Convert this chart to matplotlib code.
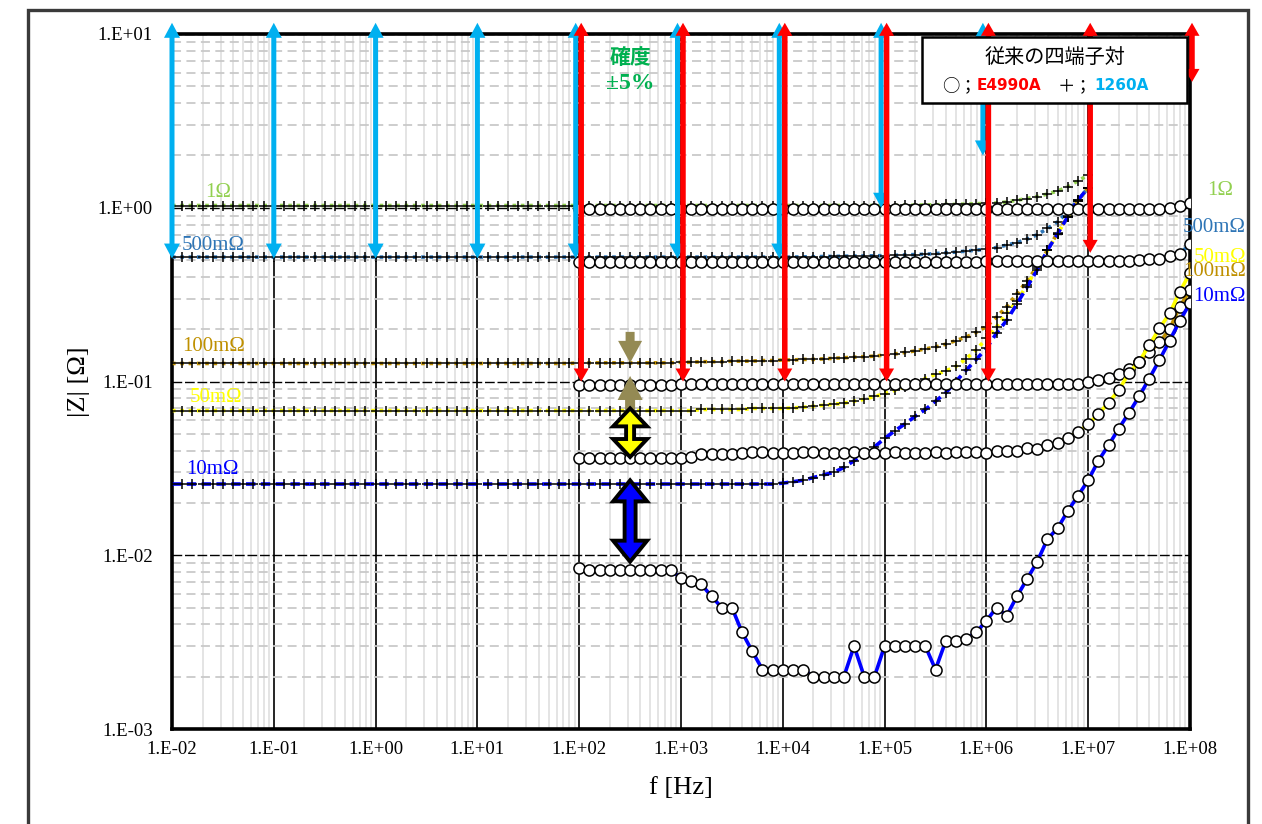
import numpy as np
import matplotlib
matplotlib.use("Agg")
import matplotlib.pyplot as plt
from matplotlib.patches import Polygon, Rectangle
from matplotlib.transforms import IdentityTransform
from matplotlib.ticker import FixedLocator, FixedFormatter, LogLocator, NullFormatter

# ---------------- data ----------------
# 1260A sweep: 10 points / decade, 1E-2 .. 1E+7 Hz
freq_1260a = np.logspace(-2, 7, 91)
# E4990A sweep: 10 points / decade, 1E+2 .. 1E+8 Hz
freq_e4990a = np.logspace(2, 8, 61)

z1260_1ohm = [1.03] * 70 + [
    1.03, 1.03, 1.035, 1.035, 1.04, 1.04, 1.045, 1.045, 1.05, 1.055,
    1.06, 1.065, 1.08, 1.105, 1.13, 1.16, 1.2, 1.25, 1.32, 1.43, 1.54]
z1260_500m = [0.52] * 60 + [
    0.52, 0.52, 0.522, 0.522, 0.524, 0.525, 0.526, 0.527, 0.528, 0.529,
    0.53, 0.532, 0.535, 0.538, 0.54, 0.545, 0.55, 0.556, 0.563, 0.57,
    0.577, 0.59, 0.61, 0.63, 0.66, 0.70, 0.76, 0.83, 0.95, 1.11, 1.3]
z1260_100m = [0.127] * 40 + [0.128] * 10 + [
    0.129, 0.129, 0.13, 0.13, 0.13, 0.131, 0.131, 0.131, 0.132, 0.132,
    0.133, 0.133, 0.134, 0.134, 0.135, 0.136, 0.137, 0.138, 0.139, 0.14,
    0.142, 0.144, 0.147, 0.15, 0.154, 0.158, 0.164, 0.172, 0.18, 0.192,
    0.207, 0.235, 0.27, 0.32, 0.38, 0.46, 0.57, 0.72, 0.9, 1.1, 1.3]
z1260_50m = [0.068] * 50 + [
    0.068, 0.068, 0.069, 0.069, 0.069, 0.069, 0.069, 0.07, 0.07, 0.07,
    0.07, 0.0705, 0.071, 0.072, 0.073, 0.074, 0.075, 0.077, 0.079, 0.082,
    0.085, 0.089, 0.093, 0.098, 0.104, 0.11, 0.115, 0.122, 0.135, 0.152,
    0.177, 0.207, 0.247, 0.29, 0.36, 0.45, 0.57, 0.71, 0.89, 1.1, 1.3]
z1260_10m = [0.0257] * 60 + [
    0.026, 0.0265, 0.027, 0.028, 0.029, 0.03, 0.032, 0.035, 0.038, 0.042,
    0.047, 0.052, 0.057, 0.063, 0.069, 0.077, 0.086, 0.1, 0.116, 0.134,
    0.155, 0.19, 0.225, 0.28, 0.35, 0.44, 0.57, 0.71, 0.89, 1.11, 1.3]

ze49_1ohm = [0.985] * 10 + [0.99] * 48 + [1.0, 1.02, 1.065]
ze49_500m = [0.485] * 10 + [0.49] * 30 + [0.495] * 15 + [
    0.5, 0.505, 0.51, 0.53, 0.545, 0.616]
ze49_100m = [0.095] * 10 + [0.097] * 40 + [
    0.099, 0.102, 0.105, 0.11, 0.118, 0.13, 0.147, 0.168, 0.2, 0.27, 0.336]
ze49_50m = [0.0364] * 11 + [0.037, 0.0381, 0.0381, 0.0381, 0.0384] + [
    0.039, 0.0391, 0.0391, 0.039, 0.0388, 0.039, 0.0391, 0.0391, 0.039, 0.0388,
    0.039, 0.0391, 0.039, 0.0388, 0.039, 0.0391, 0.039, 0.0389, 0.039, 0.0391,
    0.039, 0.0391, 0.0391, 0.0391] + [
    0.0387, 0.04, 0.04, 0.04, 0.0413, 0.041, 0.0429, 0.0445, 0.0475, 0.0512,
    0.0567, 0.065, 0.0755, 0.0893, 0.1115, 0.13, 0.162, 0.202, 0.247, 0.329, 0.421]
ze49_10m = [0.0085] + [0.0082] * 9 + [
    0.0074, 0.0071, 0.0068, 0.0058, 0.005, 0.005, 0.0036, 0.0028, 0.0022, 0.0022,
    0.0022, 0.0022, 0.0022, 0.002, 0.002, 0.002, 0.002, 0.003, 0.002, 0.002,
    0.003, 0.003, 0.003, 0.003, 0.003, 0.0022, 0.0032, 0.0032, 0.0033, 0.0036,
    0.0042, 0.005, 0.0045, 0.0058, 0.0073, 0.0092, 0.0124, 0.0143, 0.018, 0.022,
    0.027, 0.035, 0.043, 0.0535, 0.066, 0.082, 0.104, 0.133, 0.172, 0.224, 0.282]

series_names = ["1Ω", "500mΩ", "100mΩ", "50mΩ", "10mΩ"]
series_colors = ["#92D050", "#2E75B6", "#BF9000", "#FFFF00", "#0000FF"]

# accuracy (±5 %) ranges per instrument
acc_1260a_freq = [1e-2, 1e-1, 1e0, 1e1, 1e2, 1e3, 1e4, 1e5, 1e6]
acc_1260a_low = [0.51, 0.51, 0.51, 0.51, 0.51, 0.51, 0.51, 1.0, 2.0]
acc_e4990a_freq = [1e2, 1e3, 1e4, 1e5, 1e6, 1e7, 1e8]
acc_e4990a_low = [0.1, 0.1, 0.1, 0.1, 0.1, 0.55, 5.3]
acc_high = 11.6

x_tick_values = [1e-2, 1e-1, 1e0, 1e1, 1e2, 1e3, 1e4, 1e5, 1e6, 1e7, 1e8]
x_tick_labels = ["1.E-02", "1.E-01", "1.E+00", "1.E+01", "1.E+02", "1.E+03",
                 "1.E+04", "1.E+05", "1.E+06", "1.E+07", "1.E+08"]
y_tick_values = [1e-3, 1e-2, 1e-1, 1e0, 1e1]
y_tick_labels = ["1.E-03", "1.E-02", "1.E-01", "1.E+00", "1.E+01"]

# ---------------- figure ----------------
SERIF = "Liberation Serif"
CJK = "Noto Sans CJK JP"

fig = plt.figure(figsize=(12.62, 8.24), dpi=100)
fig.patch.set_facecolor("white")
ax = fig.add_axes([172 / 1262, 95 / 824, 1018 / 1262, 695 / 824])
ax.set_xscale("log")
ax.set_yscale("log")
ax.set_xlim(1e-2, 1e8)
ax.set_ylim(1e-3, 1e1)

# outer frame around the whole chart
fig.add_artist(Rectangle((28 / 1262, -0.05), 1220 / 1262, 1.05 - 10 / 824,
                         transform=fig.transFigure, fill=False,
                         ec="#3A3A3A", lw=2.4, clip_on=False))

ax.xaxis.set_major_locator(FixedLocator(x_tick_values))
ax.xaxis.set_major_formatter(FixedFormatter(x_tick_labels))
ax.yaxis.set_major_locator(FixedLocator(y_tick_values))
ax.yaxis.set_major_formatter(FixedFormatter(y_tick_labels))
ax.xaxis.set_minor_locator(LogLocator(base=10, subs=np.arange(2, 10), numticks=30))
ax.yaxis.set_minor_locator(LogLocator(base=10, subs=np.arange(2, 10), numticks=30))
ax.xaxis.set_minor_formatter(NullFormatter())
ax.yaxis.set_minor_formatter(NullFormatter())
ax.tick_params(which="both", length=0)
ax.tick_params(axis="x", pad=9)
ax.tick_params(axis="y", pad=14)
for lab in ax.get_xticklabels() + ax.get_yticklabels():
    lab.set_fontfamily(SERIF)
    lab.set_fontsize(13.5)

ax.set_axisbelow(True)
ax.grid(which="minor", axis="x", color="#E4E4E4", lw=1.4, ls="-")
ax.grid(which="minor", axis="y", color="#C9C9C9", lw=1.3, ls=(0, (5, 3)))
ax.grid(which="major", axis="x", color="black", lw=1.2, ls="-")
ax.grid(which="major", axis="y", color="black", lw=1.0, ls=(0, (7, 2)))
for side in ["left", "right", "top", "bottom"]:
    ax.spines[side].set_linewidth(2.6)
    ax.spines[side].set_color("black")

ax.set_xlabel("f [Hz]", fontfamily=SERIF, fontsize=19, labelpad=13)
ax.set_ylabel("|Z| [Ω]", fontfamily=SERIF, fontsize=19, labelpad=5)

# ---------------- measured curves ----------------
z1260_all = [z1260_1ohm, z1260_500m, z1260_100m, z1260_50m, z1260_10m]
ze49_all = [ze49_1ohm, ze49_500m, ze49_100m, ze49_50m, ze49_10m]

for i, (vals, col) in enumerate(zip(z1260_all, series_colors)):
    style = (0, (2.6, 1.5)) if i == 4 else (0, (1, 1.3))
    ax.plot(freq_1260a, vals, color=col, lw=2.6, ls=style, zorder=3 + 0.1 * i)
    ax.plot(freq_1260a, vals, ls="none", marker="+", ms=6.5, mew=1.1,
            mec="black", zorder=3.05 + 0.1 * i)

for i, (vals, col) in enumerate(zip(ze49_all, series_colors)):
    ax.plot(freq_e4990a, vals, color=col, lw=2.6, marker="o", ms=8,
            mfc="white", mec="black", mew=1.1, zorder=4 + 0.1 * i)

# ---------------- series labels ----------------
left_label_pos = [(0.0211, 1.216), (0.01254, 0.61), (0.0125, 0.158),
                  (0.01503, 0.0814), (0.01372, 0.03135)]
right_label_pos = [(2.64e8, 1.265), (3.55e8, 0.765), (3.55e8, 0.427),
                   (3.55e8, 0.514), (3.55e8, 0.31)]
for name, col, lp, rp in zip(series_names, series_colors,
                             left_label_pos, right_label_pos):
    ax.text(lp[0], lp[1], name, color=col, fontfamily=SERIF, fontsize=15,
            ha="left", va="center", zorder=7)
    ax.text(rp[0], rp[1], name, color=col, fontfamily=SERIF, fontsize=15,
            ha="right", va="center", zorder=7, clip_on=False)


# ---------------- vertical arrows (drawn in pixel units) ----------------
def vertical_arrow(x, y_start, y_end, dx, shaft, head_w, head_l, two_heads,
                   zorder=6, **kw):
    X, ya = ax.transData.transform((x, y_start))
    _, yb = ax.transData.transform((x, y_end))
    X += dx
    s = 1.0 if yb > ya else -1.0
    hs, hw = shaft / 2.0, head_w / 2.0
    pts = []
    if two_heads:
        pts += [(X, ya), (X - hw, ya + s * head_l), (X - hs, ya + s * head_l)]
    else:
        pts += [(X - hs, ya)]
    pts += [(X - hs, yb - s * head_l), (X - hw, yb - s * head_l), (X, yb),
            (X + hw, yb - s * head_l), (X + hs, yb - s * head_l)]
    if two_heads:
        pts += [(X + hs, ya + s * head_l), (X + hw, ya + s * head_l)]
    else:
        pts += [(X + hs, ya)]
    poly = Polygon(pts, closed=True, transform=IdentityTransform(),
                   clip_on=False, zorder=zorder, **kw)
    ax.add_artist(poly)


for f, lo in zip(acc_1260a_freq, acc_1260a_low):
    shift = -3.5 if f >= 1e2 else 0.0
    vertical_arrow(f, lo, acc_high, shift, 5, 16, 15, True,
                   fc="#00B0F0", ec="none", zorder=6)
for f, lo in zip(acc_e4990a_freq, acc_e4990a_low):
    vertical_arrow(f, lo, acc_high, 2.0, 5.5, 15, 13, True,
                   fc="#FF0000", ec="none", zorder=6.2)

# offsets between the two instruments at 10^2.5 Hz
f_mid = 10 ** 2.5
vertical_arrow(f_mid, 0.193, z1260_100m[45], 0, 9, 24, 22, False,
               fc="#948A54", ec="none", zorder=6.5)
vertical_arrow(f_mid, z1260_50m[45], 0.1076, 0, 10, 25, 24, False,
               fc="#948A54", ec="none", zorder=6.5)
vertical_arrow(f_mid, ze49_50m[5] * 1.01, z1260_50m[45] * 1.03, 0, 8, 34, 18,
               True, fc="#FFFF00", ec="black", lw=2.8, zorder=6.6)
vertical_arrow(f_mid, ze49_10m[5] * 1.12, z1260_10m[45] * 1.05, 0, 11, 34, 21,
               True, fc="#0000FF", ec="black", lw=2.8, zorder=6.6)

ax.text(f_mid, 7.37, "確度", color="#00B050", fontfamily=[CJK],
        fontweight="bold", fontsize=15, ha="center", va="center", zorder=7)
ax.text(f_mid, 5.22, "±5%", color="#00B050", fontfamily=[SERIF, CJK],
        fontweight="bold", fontsize=17, ha="center", va="center", zorder=7)

# ---------------- legend box ----------------
ax.add_artist(Rectangle((922 / 1262, 1 - 103 / 824), 265 / 1262, 66 / 824,
                        transform=fig.transFigure, fc="white", ec="black",
                        lw=1.8, clip_on=False, zorder=8))
ax.text(1055 / 1262, 1 - 57 / 824, "従来の四端子対", transform=fig.transFigure,
        fontfamily=[CJK], fontsize=14.5, ha="center", va="center", zorder=9)
legend_parts = [("○；", "black", "normal", 942, [CJK], 12.5),
                ("E4990A", "#FF0000", "bold", 977, ["DejaVu Sans"], 11),
                ("＋；", "black", "normal", 1058, [CJK], 12.5),
                ("1260A", "#00B0F0", "bold", 1094, ["DejaVu Sans"], 11)]
for txt, col, wt, px, fam, size in legend_parts:
    ax.text(px / 1262, 1 - 86 / 824, txt, transform=fig.transFigure,
            color=col, fontweight=wt, fontfamily=fam, fontsize=size,
            ha="left", va="center", zorder=9)

fig.savefig("out.png", dpi=100, facecolor="white")
